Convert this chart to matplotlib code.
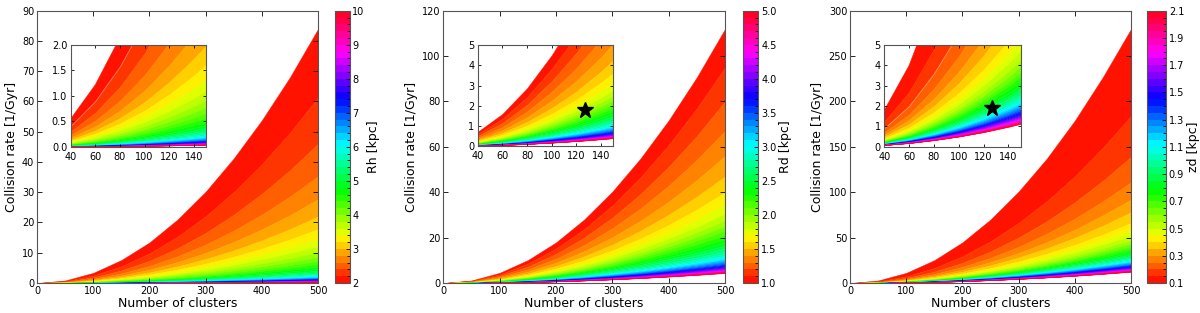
import numpy as np
import matplotlib.pyplot as plt
from matplotlib.colors import ListedColormap, BoundaryNorm
from matplotlib.cm import ScalarMappable

# x grids
n_main = [0, 50, 100, 150, 200, 250, 300, 350, 400, 450, 500]
n_inset = [40, 60, 80, 100, 120, 140, 160]

# top curve (smallest parameter)
top_rh = [0, 0.84, 3.36, 7.6, 13.4, 21, 30.2, 41.2, 53.8, 68, 84]
top_rd = [0, 1.12, 4.5, 10.1, 17.9, 28, 40.3, 54.9, 71.7, 90.7, 112]
top_zd = [0, 2.8, 11.2, 25.2, 44.8, 70, 100.8, 137, 179, 227, 280]

# top curve in the insets
inset_rh = [0.55, 1.22, 2.15, 3.35, 4.85, 6.6, 8.6]
inset_rd = [0.72, 1.6, 2.87, 4.5, 6.45, 8.8, 11.5]
inset_zd = [1.8, 4.0, 7.2, 11.2, 16.1, 22, 28.7]

# parameter levels and the rate each one reaches at N = 500
rh_levels = np.round(np.arange(2.0, 10.01, 0.2), 2)
rh_rate500 = [84, 61.3, 46.0, 35.3, 27.7, 22.0, 17.8, 14.6, 12.1, 10.1, 8.53,
              7.26, 6.23, 5.37, 4.67, 4.08, 3.59, 3.17, 2.81, 2.50, 2.24,
              2.01, 1.81, 1.63, 1.48, 1.35, 1.23, 1.12, 1.03, 0.94, 0.87,
              0.80, 0.74, 0.68, 0.63, 0.59, 0.55, 0.51, 0.47, 0.44, 0.41]

rd_levels = np.round(np.arange(1.0, 5.001, 0.1), 2)
rd_rate500 = [112, 95, 80, 67, 56, 47, 40, 34.5, 30.5, 27.5, 25,
              23, 21, 19.3, 17.8, 16.4, 15.1, 13.9, 12.9, 12.0, 11.2,
              10.5, 9.9, 9.3, 8.8, 8.3, 7.9, 7.5, 7.1, 6.8, 6.5,
              6.2, 5.9, 5.65, 5.4, 5.2, 5.0, 4.85, 4.7, 4.55, 4.4]

zd_levels = np.round(np.arange(0.1, 2.101, 0.05), 3)
zd_rate500 = [280, 184, 139, 111, 92, 78, 66, 58, 52, 47, 43.5,
              40.5, 38, 35.5, 33.5, 31.5, 29.8, 28.2, 26.8, 25.5, 24.3,
              23.3, 22.3, 21.4, 20.5, 19.7, 19.0, 18.3, 17.7, 17.1, 16.5,
              16.0, 15.5, 15.0, 14.6, 14.1, 13.7, 13.4, 13.0, 12.7, 12.4]

# star (Milky Way estimate) in the insets
star_rd = (127, 1.8)
star_zd = (127, 1.9)

plt.rcParams['font.family'] = 'DejaVu Sans'
plt.rcParams['xtick.direction'] = 'in'
plt.rcParams['ytick.direction'] = 'in'
plt.rcParams['xtick.top'] = True
plt.rcParams['ytick.right'] = True
plt.rcParams['axes.edgecolor'] = '#555555'

W, H = 1200, 313
fig = plt.figure(figsize=(12, 3.13), dpi=100)


def box(x0, y0, x1, y1):
    return [x0 / W, 1 - y1 / H, (x1 - x0) / W, (y1 - y0) / H]


def bands(ax, nx, top, levels, rate500, cmap):
    nx = np.array(nx)
    top = np.array(top)
    scale = np.array(rate500) / rate500[0]
    for k in range(len(levels) - 1):
        c = cmap(k)
        ax.fill_between(nx, top * scale[k + 1], top * scale[k], color=c,
                        lw=0.3, ec=c)


panels = [
    dict(top=top_rh, inset=inset_rh, lev=rh_levels, r=rh_rate500, ymax=90, ystep=10,
         iymax=2.0, iystep=0.5, lab='Rh [kpc]', cticks=np.arange(2, 11, 1), star=None,
         ax=(37, 10.7, 318, 283), cb=(335, 10.7, 349.5, 283), ins=(70.7, 45, 206, 146.7),
         cfmt='%d', ifmt='%.1f'),
    dict(top=top_rd, inset=inset_rd, lev=rd_levels, r=rd_rate500, ymax=120, ystep=20,
         iymax=5, iystep=1, lab='Rd [kpc]', cticks=np.arange(1.0, 5.01, 0.5), star=star_rd,
         ax=(443.3, 10.7, 725, 283), cb=(742.7, 10.7, 758.3, 283), ins=(477.7, 45, 613.3, 146.3),
         cfmt='%.1f', ifmt='%d'),
    dict(top=top_zd, inset=inset_zd, lev=zd_levels, r=zd_rate500, ymax=300, ystep=50,
         iymax=5, iystep=1, lab='zd [kpc]', cticks=np.arange(0.1, 2.11, 0.2), star=star_zd,
         ax=(850, 10.7, 1131, 283), cb=(1146.7, 10.7, 1166, 283), ins=(884.3, 45, 1020.7, 146.7),
         cfmt='%.1f', ifmt='%d'),
]

for p in panels:
    lev = p['lev']
    nb = len(lev) - 1
    cmap = ListedColormap(plt.cm.hsv((np.arange(nb) + 0.5) / nb))
    norm = BoundaryNorm(lev, nb)

    ax = fig.add_axes(box(*p['ax']))
    bands(ax, n_main, p['top'], lev, p['r'], cmap)
    ax.set_xlim(0, 500)
    ax.set_ylim(0, p['ymax'])
    ax.set_xticks(range(0, 501, 100))
    ax.set_yticks(np.arange(0, p['ymax'] + 1, p['ystep']))
    ax.tick_params(labelsize=7, length=3.5, width=0.6, pad=2)
    ax.set_xlabel('Number of clusters', fontsize=9, labelpad=1)
    ax.set_ylabel('Collision rate [1/Gyr]', fontsize=9, labelpad=3)

    ia = fig.add_axes(box(*p['ins']))
    bands(ia, n_inset, p['inset'], lev, p['r'], cmap)
    ia.set_xlim(40, 150)
    ia.set_ylim(0, p['iymax'])
    ia.set_xticks(range(40, 141, 20))
    ia.set_yticks(np.arange(0, p['iymax'] + 0.01, p['iystep']))
    ia.yaxis.set_major_formatter(plt.FormatStrFormatter(p['ifmt']))
    ia.tick_params(labelsize=7, length=2.5, width=0.6)
    ia.tick_params(axis='x', pad=3.5)
    ia.tick_params(axis='y', pad=2.5)
    if p['star'] is not None:
        ia.plot(*p['star'], marker='*', color='k', ms=12, ls='none')

    cax = fig.add_axes(box(*p['cb']))
    cb = fig.colorbar(ScalarMappable(norm=norm, cmap=cmap), cax=cax, ticks=p['cticks'])
    cb.ax.yaxis.set_major_formatter(plt.FormatStrFormatter(p['cfmt']))
    cb.ax.tick_params(labelsize=7, length=3, width=0.6, direction='in', pad=2)
    cb.outline.set_edgecolor('#555555')
    cb.set_label(p['lab'], fontsize=9, labelpad=2)

fig.savefig('out.png', dpi=100, facecolor='white')
